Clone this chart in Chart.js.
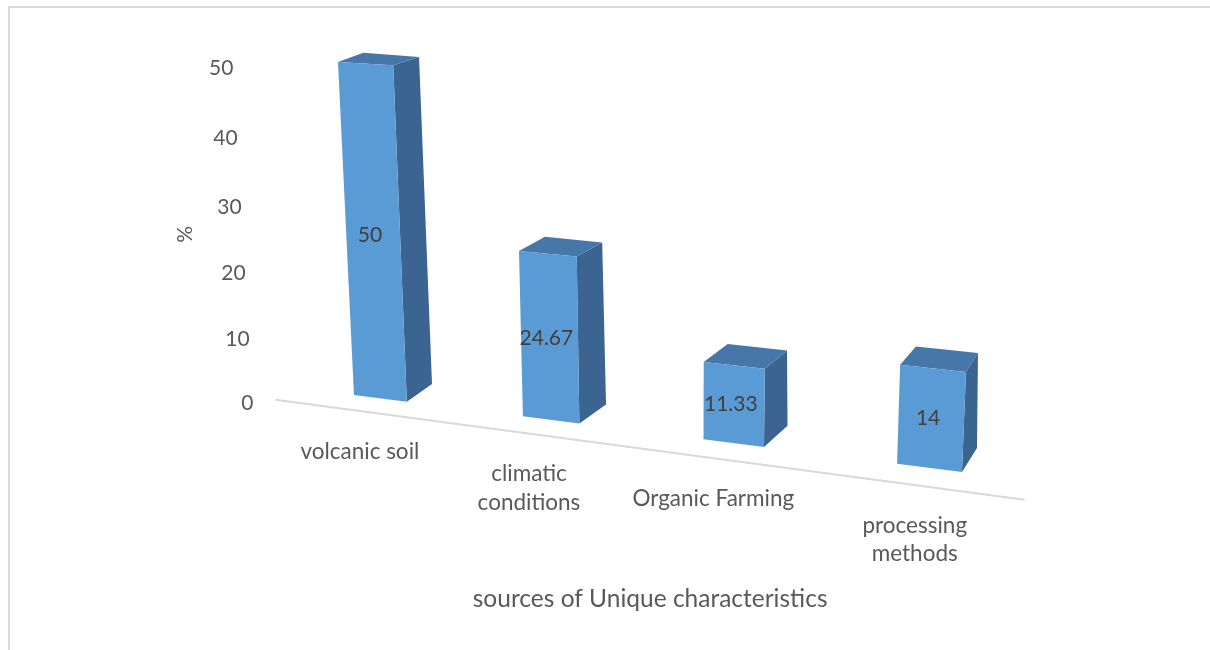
<!DOCTYPE html>
<html>
<head>
<meta charset="utf-8">
<script src="https://cdn.jsdelivr.net/npm/chart.js@4.4.1/dist/chart.umd.min.js"></script>
<style>
  html, body { margin: 0; padding: 0; background: #fff; }
  #wrap { position: relative; width: 1210px; height: 650px; overflow: hidden; }
  #frame { position: absolute; left: 8px; top: 6px; right: -10px; bottom: -10px;
           border-top: 2px solid #dadada; border-left: 2px solid #dadada; }
  canvas { position: absolute; left: 0; top: 0; }
</style>
</head>
<body>
<div id="wrap">
  <div id="frame"></div>
  <canvas id="chart" width="1210" height="650"></canvas>
</div>
<script>
/* 3D bar chart: sources of unique characteristics (%) */
const categories = [['volcanic soil'], ['climatic', 'conditions'], ['Organic Farming'], ['processing', 'methods']];
const values = [50, 24.67, 11.33, 14];
const tickValues = [0, 10, 20, 30, 40, 50];
const xTitle = 'sources of Unique characteristics';
const yTitle = '%';

const FONT = 'Lato, "Open Sans", sans-serif';
const TEXT = '#595959';

// camera: where the corners of the flat plot area land on screen
// (top-left, top-right, bottom-right, bottom-left), for the front and back planes of the boxes
const frontQuad = [[280.6, 58.5], [1051.5, 105.5], [1032.6, 480.9], [299.0, 388.0]];
const backQuad = [[304.9, 48.1], [1049.2, 106.2], [1043.3, 455.8], [321.0, 371.0]];
const floorDepth = -0.75;

// plane-to-plane homography from 4 point pairs
function homography(src, dst) {
  const A = [], b = [];
  for (let k = 0; k < 4; k++) {
    const [x, y] = src[k], [X, Y] = dst[k];
    A.push([x, y, 1, 0, 0, 0, -x * X, -y * X]); b.push(X);
    A.push([0, 0, 0, x, y, 1, -x * Y, -y * Y]); b.push(Y);
  }
  for (let c = 0; c < 8; c++) {
    let p = c;
    for (let r = c + 1; r < 8; r++) if (Math.abs(A[r][c]) > Math.abs(A[p][c])) p = r;
    [A[c], A[p]] = [A[p], A[c]]; [b[c], b[p]] = [b[p], b[c]];
    for (let r = 0; r < 8; r++) {
      if (r === c) continue;
      const f = A[r][c] / A[c][c];
      for (let k = c; k < 8; k++) A[r][k] -= f * A[c][k];
      b[r] -= f * b[c];
    }
  }
  const h = b.map((v, i) => v / A[i][i]);
  return (x, y) => {
    const w = h[6] * x + h[7] * y + 1;
    return [(h[0] * x + h[1] * y + h[2]) / w, (h[3] * x + h[4] * y + h[5]) / w];
  };
}

const box3d = {
  id: 'box3d',
  beforeDatasetsDraw() { return false; },
  afterDraw(chart) {
    const { ctx, chartArea: a, scales: { y } } = chart;
    const corners = [[a.left, a.top], [a.right, a.top], [a.right, a.bottom], [a.left, a.bottom]];
    const Hf = homography(corners, frontQuad);
    const Hb = homography(corners, backQuad);
    const P = (fx, fy, d) => {
      const p = Hf(fx, fy), q = Hb(fx, fy);
      return [p[0] + (q[0] - p[0]) * d, p[1] + (q[1] - p[1]) * d];
    };
    const poly = (pts, fill) => {
      ctx.beginPath();
      pts.forEach((p, i) => i ? ctx.lineTo(p[0], p[1]) : ctx.moveTo(p[0], p[1]));
      ctx.closePath();
      ctx.fillStyle = fill;
      ctx.fill();
    };
    const catW = (a.right - a.left) / categories.length;
    const y0 = y.getPixelForValue(0);
    ctx.save();

    // floor line
    const fl = P(a.left - 8, y0, floorDepth), fr = P(a.right, y0, floorDepth);
    ctx.strokeStyle = '#d9d9d9';
    ctx.lineWidth = 2;
    ctx.beginPath(); ctx.moveTo(fl[0], fl[1]); ctx.lineTo(fr[0], fr[1]); ctx.stroke();

    // y ticks
    ctx.font = '21px ' + FONT;
    ctx.fillStyle = TEXT;
    ctx.textAlign = 'right';
    ctx.textBaseline = 'middle';
    tickValues.forEach(t => {
      const p = P(a.left, y.getPixelForValue(t), floorDepth);
      ctx.fillText(String(t), p[0] - 29, p[1] + 2);
    });

    // boxes + value labels
    chart.getDatasetMeta(0).data.forEach((bar, i) => {
      const { x: cx, y: top, base, width } = bar.getProps(['x', 'y', 'base', 'width'], true);
      const l = cx - width / 2, r = cx + width / 2;
      const fTL = Hf(l, top), fTR = Hf(r, top), fBR = Hf(r, base), fBL = Hf(l, base);
      const bTL = Hb(l, top), bTR = Hb(r, top), bBR = Hb(r, base);
      poly([fTR, bTR, bBR, fBR], '#3b6490');
      poly([fTL, bTL, bTR, fTR], '#4777a8');
      poly([fTL, fTR, fBR, fBL], '#5b9bd5');
      const c = Hf(cx, (top + base) / 2);
      ctx.fillStyle = '#404040';
      ctx.textAlign = 'center';
      ctx.textBaseline = 'middle';
      ctx.fillText(String(values[i]), c[0] - 3, c[1]);
    });

    // category labels
    ctx.font = '22.5px ' + FONT;
    ctx.fillStyle = TEXT;
    ctx.textAlign = 'center';
    ctx.textBaseline = 'middle';
    categories.forEach((lines, i) => {
      const p = P(a.left + (i + 0.5) * catW, y0, floorDepth);
      lines.forEach((ln, k) => ctx.fillText(ln, p[0] - 2, p[1] + 40 + k * 28.5));
    });

    // axis titles
    ctx.font = '24.5px ' + FONT;
    const mid = P((a.left + a.right) / 2, y0, floorDepth);
    ctx.fillText(xTitle, mid[0] + 29, mid[1] + 153);
    ctx.font = '21px ' + FONT;
    const ym = P(a.left, y.getPixelForValue(25), floorDepth);
    ctx.save();
    ctx.translate(ym[0] - 87, ym[1] - 4);
    ctx.rotate(-Math.PI / 2);
    ctx.fillText(yTitle, 0, 0);
    ctx.restore();
    ctx.restore();
  }
};

new Chart(document.getElementById('chart'), {
  type: 'bar',
  data: {
    labels: categories,
    datasets: [{ data: values, backgroundColor: '#5b9bd5', barPercentage: 0.32, categoryPercentage: 1 }]
  },
  options: {
    responsive: false,
    animation: false,
    layout: { padding: { left: 290, right: 200, top: 62, bottom: 250 } },
    plugins: { legend: { display: false }, tooltip: { enabled: false } },
    scales: {
      x: { display: false },
      y: { display: false, min: 0, max: 50 }
    }
  },
  plugins: [box3d]
});
</script>
</body>
</html>
